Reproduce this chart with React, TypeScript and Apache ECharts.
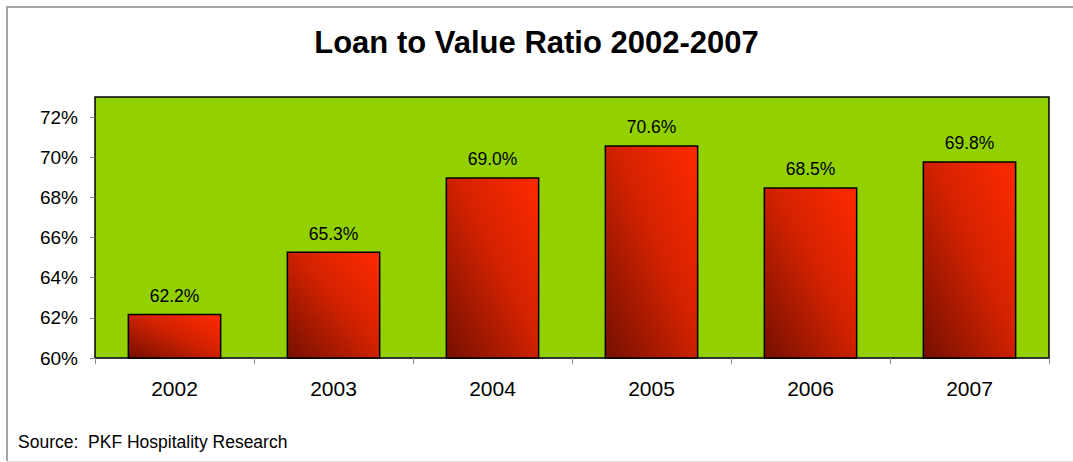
import React, { useEffect, useRef } from "react";
import * as echarts from "echarts";

const years = ["2002", "2003", "2004", "2005", "2006", "2007"];
const ltvValues = [62.2, 65.3, 69.0, 70.6, 68.5, 69.8];
const yTicks = [60, 62, 64, 66, 68, 70, 72];
const titleText = "Loan to Value Ratio 2002-2007";
const sourceText = "Source:  PKF Hospitality Research";

export default function App() {
  const ref = useRef<HTMLDivElement>(null);
  useEffect(() => {
    if (!ref.current) return;
    const chart = echarts.init(ref.current, null, { renderer: "svg" });
    const font = "Liberation Sans, Arial, sans-serif";
    chart.setOption({
      animation: false,
      backgroundColor: "#ffffff",
      textStyle: { fontFamily: font },
      title: {
        text: titleText,
        left: "center",
        top: 22,
        textStyle: { fontSize: 31, fontWeight: "bold", color: "#000", fontFamily: font },
      },
      graphic: [
        {
          type: "polyline",
          shape: { points: [[7, 461], [7, 7], [1080, 7]] },
          style: { fill: "none", stroke: "#a6a6a6", lineWidth: 2 },
          silent: true,
          z: -10,
        },
        {
          type: "line",
          shape: { x1: 7, y1: 461.5, x2: 1080, y2: 461.5 },
          style: { stroke: "#dcdcdc", lineWidth: 1 },
          silent: true,
          z: -10,
        },
        {
          type: "text",
          x: 18,
          y: 442,
          style: {
            text: sourceText,
            fontSize: 17.5,
            fontFamily: font,
            fill: "#000",
            verticalAlign: "middle",
          },
        },
      ],
      grid: {
        left: 95,
        right: 24,
        top: 97,
        bottom: 104,
        show: true,
        backgroundColor: "#92d000",
        borderColor: "#000",
        borderWidth: 1.5,
      },
      xAxis: {
        type: "category",
        data: years,
        axisLine: { show: true, lineStyle: { color: "#333", width: 1.5 } },
        axisTick: { show: true, alignWithLabel: false, length: 6, lineStyle: { color: "#888" } },
        axisLabel: { fontSize: 21, color: "#000", margin: 20, fontFamily: font },
        splitLine: { show: false },
      },
      yAxis: {
        type: "value",
        min: 60,
        max: 73,
        interval: 2,
        axisLine: { show: false },
        axisTick: {
          show: true,
          length: 5,
          lineStyle: { color: "#888" },
          customValues: yTicks,
        },
        axisLabel: {
          fontSize: 19,
          color: "#000",
          margin: 17,
          fontFamily: font,
          customValues: yTicks,
          formatter: (v: number) => `${v}%`,
        },
        splitLine: { show: false },
      },
      series: [
        {
          type: "bar",
          data: ltvValues,
          barWidth: "59%",
          itemStyle: {
            borderColor: "#000",
            borderWidth: 1.5,
            color: new echarts.graphic.LinearGradient(0, 1, 1, 0, [
              { offset: 0, color: "#741000" },
              { offset: 0.55, color: "#d42200" },
              { offset: 1, color: "#ff2a00" },
            ]),
          },
          label: {
            show: true,
            position: "top",
            distance: 9,
            fontSize: 17.5,
            color: "#000",
            fontFamily: font,
            formatter: (p: any) => `${Number(p.value).toFixed(1)}%`,
          },
        },
      ],
    });
    return () => chart.dispose();
  }, []);
  return (
    <div
      ref={ref}
      style={{ position: "fixed", left: 0, top: 0, width: 1073, height: 462 }}
    />
  );
}
